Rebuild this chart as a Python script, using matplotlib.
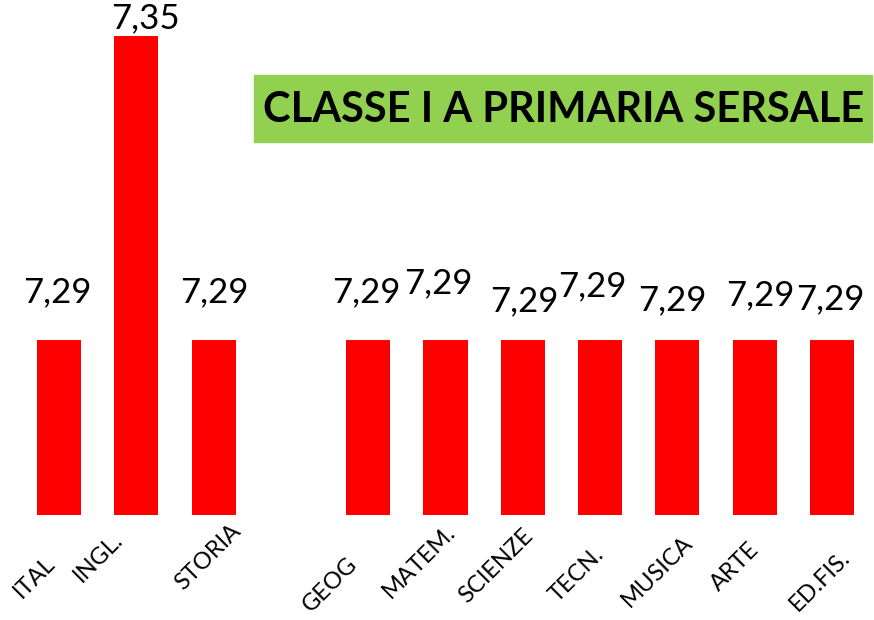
from matplotlib import pyplot as plt
from matplotlib.patches import Rectangle
import numpy as np

plt.rcParams['font.family'] = ['Lato', 'DejaVu Sans']

materie = ['ITAL', 'INGL.', 'STORIA', '', 'GEOG', 'MATEM.', 'SCIENZE',
           'TECN.', 'MUSICA', 'ARTE', 'ED.FIS.']
medie = [7.29, 7.35, 7.29, np.nan, 7.29, 7.29, 7.29, 7.29, 7.29, 7.29, 7.29]
titolo = 'CLASSE I A PRIMARIA SERSALE'

# label placement in pixels, copied by eye from the original (overlapping labels)
val_off = [(-2, 48), (9, 18), (1, 48), (0, 0), (-2, 48), (-7, 57), (1, 39),
           (-8, 54), (-5, 40), (6, 45), (-2, 41)]
tick_off = [(-25, 62), (-38, 42), (-6, 42), (0, 0), (-38, 70), (-26, 47),
            (-27, 51), (-23, 60), (-20, 56), (-20, 52), (-12, 66)]

fig = plt.figure(figsize=(8.74, 6.2), dpi=100)
ax = fig.add_axes([0.0233, 0.1694, 0.9729, 0.8306])

x = np.arange(len(materie))
ax.bar(x, medie, width=0.57, color='#FF0000')
ax.set_xlim(-0.5, len(materie) - 0.5)
ax.set_ylim(7.2555, 7.3571)
ax.axis('off')

for i, v in enumerate(medie):
    if np.isnan(v):
        continue
    ax.annotate(f'{v:.2f}'.replace('.', ','), xy=(i, v),
                xytext=val_off[i], textcoords='offset pixels',
                ha='center', va='center', fontsize=25, annotation_clip=False)

for i, m in enumerate(materie):
    if not m:
        continue
    dx, dy = tick_off[i]
    ax.annotate(m, xy=(i, 0), xycoords=ax.get_xaxis_transform(),
                xytext=(dx, -dy), textcoords='offset pixels',
                ha='center', va='center', rotation=45, rotation_mode='anchor',
                fontsize=17, annotation_clip=False)

# green title box
fig.patches.append(Rectangle((254 / 874, 1 - 142 / 620), 618 / 874, 67 / 620,
                             transform=fig.transFigure, color='#92D050',
                             zorder=0))
fig.text(564 / 874, 1 - 110 / 620, titolo, ha='center', va='center',
         fontsize=30, fontweight='bold')

fig.savefig('out.png', dpi=100)
